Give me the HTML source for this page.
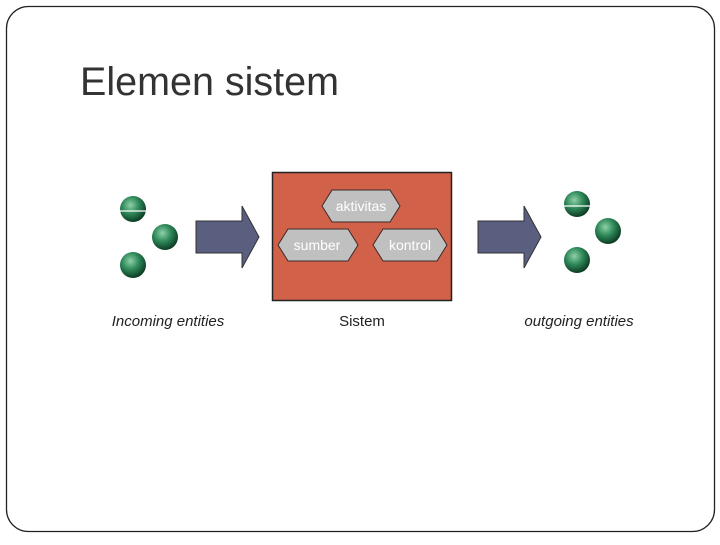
<!DOCTYPE html>
<html><head><style>
body{margin:0;width:720px;height:540px;background:#fff;overflow:hidden;font-family:"Liberation Sans",sans-serif}
</style></head><body>
<svg width="720" height="540" xmlns="http://www.w3.org/2000/svg">
<defs>
<radialGradient id="g" cx="40%" cy="35%" r="65%">
<stop offset="0" stop-color="#8fd0a8"/><stop offset="0.5" stop-color="#2f8a5a"/><stop offset="1" stop-color="#0d3d25"/>
</radialGradient>
</defs>
<rect x="6.5" y="6.5" width="708" height="525" rx="22" fill="none" stroke="#222" stroke-width="1.3"/>
<text x="80" y="95" font-size="39.5" fill="#333">Elemen sistem</text>
<g fill="url(#g)">
<circle cx="133" cy="209" r="13"/><circle cx="165" cy="237" r="13"/><circle cx="133" cy="265" r="13"/>
<circle cx="577" cy="204" r="13"/><circle cx="608" cy="231" r="13"/><circle cx="577" cy="260" r="13"/>
</g>
<line x1="120" y1="211" x2="146" y2="211" stroke="#fff" stroke-width="1.2"/>
<line x1="564" y1="206" x2="590" y2="206" stroke="#fff" stroke-width="1.2"/>
<polygon points="196,221 242,221 242,206 259,237 242,268 242,253 196,253" fill="#5a5f80" stroke="#333" stroke-width="1"/>
<polygon points="478,221 524,221 524,206 541,237 524,268 524,253 478,253" fill="#5a5f80" stroke="#333" stroke-width="1"/>
<rect x="272.5" y="172.5" width="179" height="128" fill="#d2614a" stroke="#222" stroke-width="1.5"/>
<g fill="#c0c0c0" stroke="#3a2a25" stroke-width="1">
<polygon points="322,206 332,190 390,190 400,206 390,222 332,222"/>
<polygon points="278,245 288,229 348,229 358,245 348,261 288,261"/>
<polygon points="373,245 383,229 437,229 447,245 437,261 383,261"/>
</g>
<g fill="#fff" font-size="14" text-anchor="middle">
<text x="361" y="211">aktivitas</text>
<text x="317" y="250">sumber</text>
<text x="410" y="250">kontrol</text>
</g>
<g font-size="15" fill="#222" text-anchor="middle">
<text x="168" y="326" font-style="italic">Incoming entities</text>
<text x="362" y="326">Sistem</text>
<text x="579" y="326" font-style="italic">outgoing entities</text>
</g>
</svg>
</body></html>
